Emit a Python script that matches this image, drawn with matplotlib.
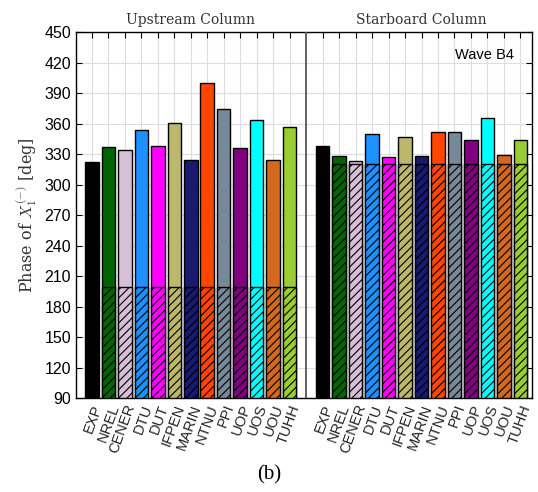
import matplotlib
matplotlib.use('Agg')
import matplotlib.pyplot as plt
import numpy as np

plt.rcParams['mathtext.fontset'] = 'cm'
plt.rcParams['hatch.linewidth'] = 0.8

labels = ['EXP', 'NREL', 'CENER', 'DTU', 'DUT', 'IFPEN', 'MARIN',
          'NTNU', 'PPI', 'UOP', 'UOS', 'UOU', 'TUHH']
colors = ['black', '#006400', '#D8BFD8', '#1E90FF', '#FF00FF', '#BDB76B',
          '#191970', '#FF4500', '#778899', '#800080', '#00FFFF', '#D2691E',
          '#9ACD32']

# phase of X1(-) in degrees
upstream = [322.5, 336.5, 334, 353.5, 337.5, 361, 324.5, 399.5, 374, 335.5,
            363.5, 324.5, 356.5]
starboard = [337.5, 328.5, 323, 349.5, 327.5, 347, 328.5, 351.5, 352, 344,
             365, 329.5, 343.5]
# hatched base level of the code bars
hatch_top = [199, 320]

ymin = 90
pos_up = np.arange(1, 14)
pos_sb = np.arange(15, 28)

fig = plt.figure(figsize=(5.38, 4.92), dpi=100)
ax = fig.add_axes([0.1413, 0.1904, 0.8475, 0.7446])

for pos, vals, htop in [(pos_up, upstream, hatch_top[0]),
                        (pos_sb, starboard, hatch_top[1])]:
    for i, (p, v) in enumerate(zip(pos, vals)):
        ax.bar(p, v - ymin, bottom=ymin, width=0.82, color=colors[i],
               edgecolor='black', linewidth=1.0, zorder=3)
        if i > 0:
            ax.bar(p, htop - ymin, bottom=ymin, width=0.82, color=colors[i],
                   edgecolor='black', linewidth=1.0, hatch='////', zorder=4)

ax.axvline(14, color='#555555', linewidth=1.3, zorder=5)

ax.set_xlim(0.04, 27.7)
ax.set_ylim(90, 450)
ax.set_yticks(np.arange(90, 451, 30))
ax.set_xticks(np.concatenate([pos_up, pos_sb]))
ax.set_xticklabels(labels + labels, rotation=70, ha='right',
                   rotation_mode='anchor', fontsize=10.5,
                   family='Liberation Sans', color='#222222')
ax.grid(True, which='major', color='#dddddd', linewidth=0.8, zorder=0)
ax.tick_params(axis='x', which='both', direction='in', top=True,
               bottom=False, length=4, pad=3)
ax.tick_params(axis='y', direction='in', right=True, length=4,
               labelsize=11.5)
for lab in ax.get_yticklabels():
    lab.set_family('Liberation Sans')
for sp in ax.spines.values():
    sp.set_linewidth(1.0)

ax.set_ylabel('Phase of $X_1^{(-)}$ [deg]', family='DejaVu Serif',
              fontsize=11.5, labelpad=4, color='#333333')
ax.text(7, 455, 'Upstream Column', ha='center', va='bottom',
        family='DejaVu Serif', fontsize=10, color='#333333')
ax.text(21, 455, 'Starboard Column', ha='center', va='bottom',
        family='DejaVu Serif', fontsize=10, color='#333333')
ax.text(0.96, 0.955, 'Wave B4', transform=ax.transAxes, ha='right',
        va='top', family='Liberation Sans', fontsize=10.5)

fig.text(0.5, 0.015, '(b)', ha='center', va='bottom',
         family='Liberation Serif', fontsize=15)

fig.savefig('out.png', dpi=100)
